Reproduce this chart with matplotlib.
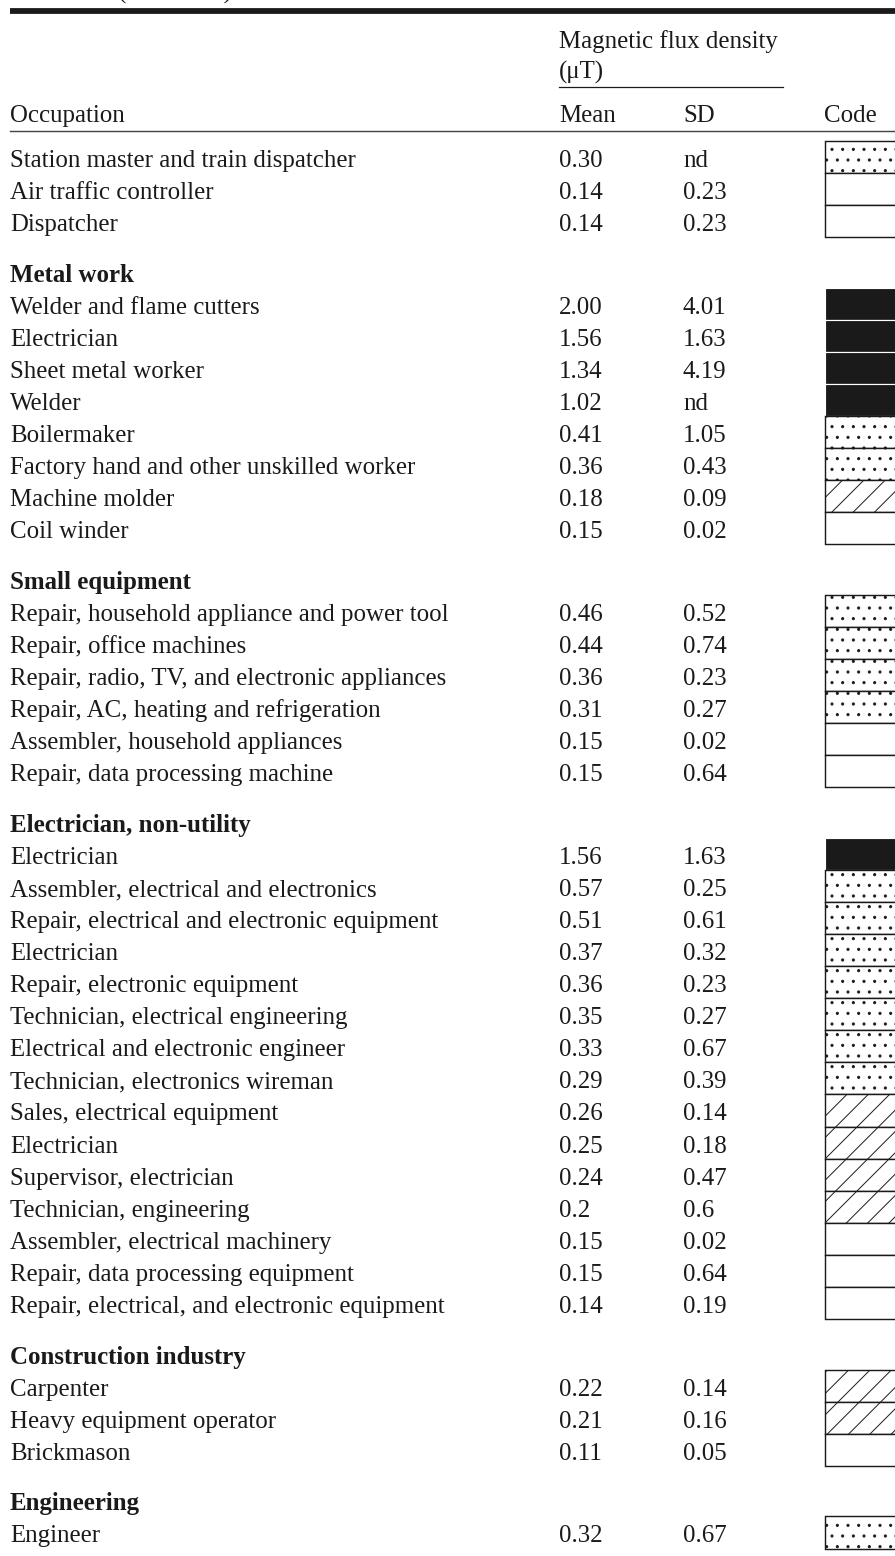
import matplotlib
matplotlib.use("Agg")
import matplotlib.pyplot as plt
from matplotlib.patches import Rectangle

# Table data
sections = ["", "Metal work", "Small equipment", "Electrician, non-utility",
            "Construction industry", "Engineering"]

occupations = [
    ["Station master and train dispatcher", "Air traffic controller", "Dispatcher"],
    ["Welder and flame cutters", "Electrician", "Sheet metal worker", "Welder",
     "Boilermaker", "Factory hand and other unskilled worker", "Machine molder",
     "Coil winder"],
    ["Repair, household appliance and power tool", "Repair, office machines",
     "Repair, radio, TV, and electronic appliances",
     "Repair, AC, heating and refrigeration", "Assembler, household appliances",
     "Repair, data processing machine"],
    ["Electrician", "Assembler, electrical and electronics",
     "Repair, electrical and electronic equipment", "Electrician",
     "Repair, electronic equipment", "Technician, electrical engineering",
     "Electrical and electronic engineer", "Technician, electronics wireman",
     "Sales, electrical equipment", "Electrician", "Supervisor, electrician",
     "Technician, engineering", "Assembler, electrical machinery",
     "Repair, data processing equipment",
     "Repair, electrical, and electronic equipment"],
    ["Carpenter", "Heavy equipment operator", "Brickmason"],
    ["Engineer"],
]

means = [
    ["0.30", "0.14", "0.14"],
    ["2.00", "1.56", "1.34", "1.02", "0.41", "0.36", "0.18", "0.15"],
    ["0.46", "0.44", "0.36", "0.31", "0.15", "0.15"],
    ["1.56", "0.57", "0.51", "0.37", "0.36", "0.35", "0.33", "0.29", "0.26",
     "0.25", "0.24", "0.2", "0.15", "0.15", "0.14"],
    ["0.22", "0.21", "0.11"],
    ["0.32"],
]

sds = [
    ["nd", "0.23", "0.23"],
    ["4.01", "1.63", "4.19", "nd", "1.05", "0.43", "0.09", "0.02"],
    ["0.52", "0.74", "0.23", "0.27", "0.02", "0.64"],
    ["1.63", "0.25", "0.61", "0.32", "0.23", "0.27", "0.67", "0.39", "0.14",
     "0.18", "0.47", "0.6", "0.02", "0.64", "0.19"],
    ["0.14", "0.16", "0.05"],
    ["0.67"],
]

# code: k = black, d = dotted, h = hatched, w = blank
codes = [
    ["d", "w", "w"],
    ["k", "k", "k", "k", "d", "d", "h", "w"],
    ["d", "d", "d", "d", "w", "w"],
    ["k", "d", "d", "d", "d", "d", "d", "d", "h", "h", "h", "h", "w", "w", "w"],
    ["h", "h", "w"],
    ["d"],
]

W, H, DPI = 895, 1556, 64
plt.rcParams['hatch.linewidth'] = 1.1
ink = "#1a1a1a"
fs = 28
font = dict(family="Liberation Serif", fontsize=fs, color=ink)

fig = plt.figure(figsize=(W / DPI, H / DPI), dpi=DPI)
ax = fig.add_axes([0, 0, 1, 1])
ax.set_xlim(0, W)
ax.set_ylim(H, 0)
ax.axis("off")

x_occ, x_mean, x_sd, x_code = 10, 559, 683, 824
pitch, gap = 32.05, 18.7
base = 26

# header
ax.text(118, -1, "(continued)", va="baseline", **font)
ax.plot([10, W], [11, 11], color=ink, lw=6.5, solid_capstyle="butt")
ax.text(x_mean, 48, "Magnetic flux density", va="baseline", **font)
ax.text(x_mean, 79, "(μT)", va="baseline", **font)
ax.plot([x_mean, 783], [86.5, 86.5], color=ink, lw=1.4)
ax.text(x_occ, 122, "Occupation", va="baseline", **font)
ax.text(x_mean, 122, "Mean", va="baseline", **font)
ax.text(x_sd, 122, "SD", va="baseline", **font)
ax.text(x_code, 122, "Code", va="baseline", **font)
ax.plot([10, W], [130.5, 130.5], color="#444444", lw=1.6)

y = 141.0
for s, name in enumerate(sections):
    if s > 0:
        y += gap
        ax.text(x_occ, y + base, name, va="baseline", fontweight="bold", **font)
        y += pitch
    for occ, m, sd, c in zip(occupations[s], means[s], sds[s], codes[s]):
        ax.text(x_occ, y + base, occ, va="baseline", **font)
        ax.text(x_mean, y + base, m, va="baseline", **font)
        ax.text(x_sd, y + base, sd, va="baseline", **font)
        if c == "k":
            ax.add_patch(Rectangle((x_code + 1, y), 90, pitch, facecolor=ink,
                                   edgecolor="white", lw=1.3))
        else:
            hatch = {"d": ".", "h": "/", "w": None}[c]
            ax.add_patch(Rectangle((x_code + 1, y), 90, pitch, facecolor="white",
                                   edgecolor=ink, lw=1.6, hatch=hatch))
        y += pitch

fig.savefig("out.png", dpi=DPI)
